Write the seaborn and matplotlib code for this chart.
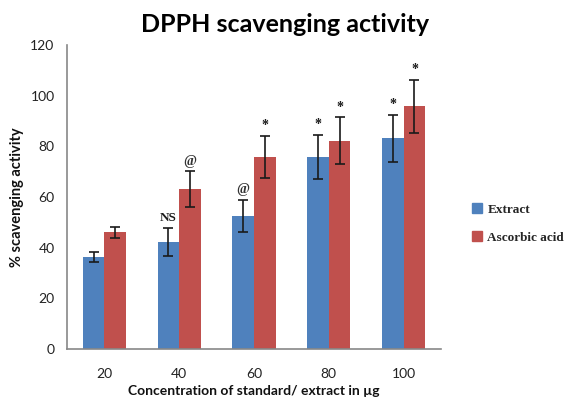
import matplotlib
matplotlib.use("Agg")
import matplotlib.pyplot as plt
import seaborn as sns
import pandas as pd
import numpy as np
from matplotlib.lines import Line2D

concentrations = ["20", "40", "60", "80", "100"]
extract_vals = [36.3, 42.2, 52.5, 75.8, 83.2]
extract_err = [2.0, 5.6, 6.2, 8.8, 9.3]
ascorbic_vals = [46.0, 63.0, 75.8, 82.3, 95.8]
ascorbic_err = [2.2, 7.1, 8.3, 9.1, 10.5]
extract_marks = ["", "NS", "@", "*", "*"]
ascorbic_marks = ["", "@", "*", "*", "*"]
series = ["Extract", "Ascorbic acid"]
colors = ["#4F81BD", "#C0504D"]

df = pd.DataFrame({
    "conc": concentrations * 2,
    "value": extract_vals + ascorbic_vals,
    "err": extract_err + ascorbic_err,
    "mark": extract_marks + ascorbic_marks,
    "series": [series[0]] * 5 + [series[1]] * 5,
})

sns.set_theme(style="white")
plt.rcParams['font.family'] = ['Lato', 'DejaVu Sans']

fig = plt.figure(figsize=(5.67, 3.97), dpi=100)
ax = fig.add_axes([67/567, 1 - 349/397, (441-67)/567, (349-45)/397])

sns.barplot(data=df, x="conc", y="value", hue="series", order=concentrations,
            hue_order=series, palette=colors, width=0.58, errorbar=None,
            ax=ax, legend=False, saturation=1, edgecolor="none")

bars = [p for p in ax.patches if p.get_height() > 0]
bars_sorted = sorted(bars, key=lambda p: p.get_x())
rows = []
for i in range(len(concentrations)):
    rows.append(df[(df.conc == concentrations[i]) & (df.series == series[0])].iloc[0])
    rows.append(df[(df.conc == concentrations[i]) & (df.series == series[1])].iloc[0])
for p, r in zip(bars_sorted, rows):
    xc = p.get_x() + p.get_width() / 2
    ax.errorbar(xc, r["value"], yerr=r["err"], fmt="none", ecolor="#1a1a1a",
                elinewidth=1.2, capsize=3.5, capthick=1.2)
    if r["mark"]:
        top = r["value"] + r["err"]
        if r["mark"] == "*":
            ax.text(xc, top + 1.5, "*", ha="center", va="bottom", fontsize=10,
                    fontweight="bold", family=["Liberation Serif"], color="#1a1a1a")
        elif r["mark"] == "@":
            ax.text(xc, top + 1.5, "@", ha="center", va="bottom", fontsize=10,
                    fontweight="bold", family=["Liberation Serif"], color="#333333")
        else:
            ax.text(xc, top + 1.5, r["mark"], ha="center", va="bottom", fontsize=9.5,
                    fontweight="bold", family=["Liberation Serif"], color="#1a1a1a")

ax.set_ylim(0, 120)
ax.set_yticks(range(0, 121, 20))
ax.set_xlim(-0.5, 4.5)
ax.set_xticks(np.arange(-0.5, 5, 1), minor=False)
ax.set_xticklabels([])
ax.set_xticks(range(5), minor=True)
ax.set_xticklabels(concentrations, minor=True)
ax.tick_params(axis="x", which="minor", length=0, pad=14, labelsize=10, labelcolor="#222222")
ax.tick_params(axis="x", which="major", length=5, width=1, color="#888888", direction="out")
ax.tick_params(axis="y", length=5, width=1, color="#888888", direction="out",
               labelsize=10, labelcolor="#222222", pad=4)
for s in ["top", "right"]:
    ax.spines[s].set_visible(False)
for s in ["left", "bottom"]:
    ax.spines[s].set_color("#888888")
    ax.spines[s].set_linewidth(1.2)

ax.set_xlabel("Concentration of standard/ extract in µg", fontsize=10, fontweight="bold",
              labelpad=3, color="#111111")
ax.set_ylabel("% scavenging activity", fontsize=10.5, fontweight="bold", labelpad=6,
              color="#111111")
ax.yaxis.set_label_coords(-(67 - 24) / (441 - 67), 0.5)

fig.text(285/567, 1 - 25/397, "DPPH scavenging activity", ha="center", va="center",
         fontsize=18, fontweight="bold", color="#000000")

handles = [Line2D([0], [0], marker="s", linestyle="none", markersize=7,
                  markerfacecolor=c, markeredgecolor=c) for c in colors]
fig.legend(handles, series, loc="upper left", bbox_to_anchor=(465/567, 1 - 198/397),
           frameon=False, prop={"family": "Liberation Serif", "weight": "bold", "size": 9.5},
           handletextpad=0.3, labelspacing=1.2, handlelength=1.0, borderaxespad=0)

fig.savefig("out.png", dpi=100)
